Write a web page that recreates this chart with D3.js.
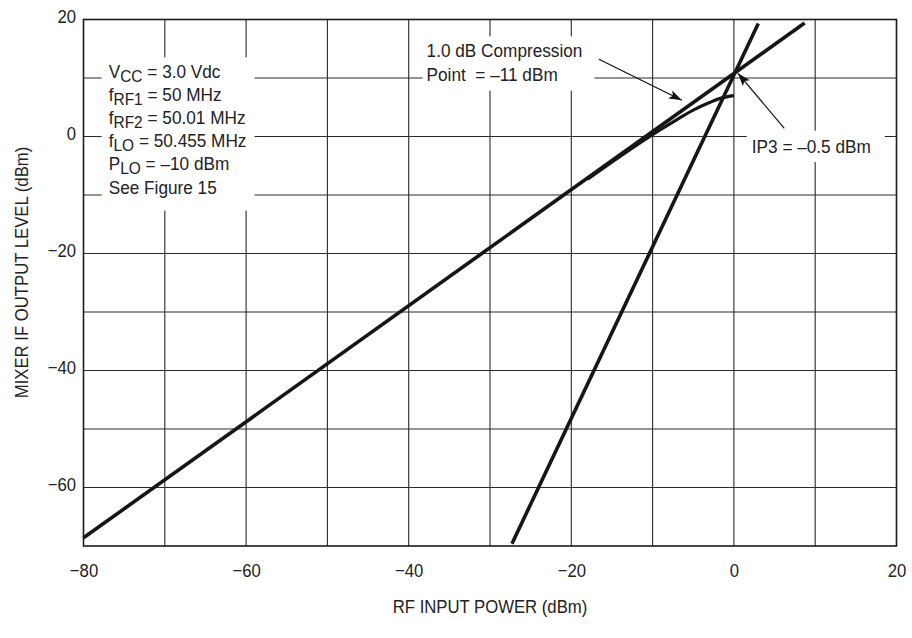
<!DOCTYPE html>
<html><head><meta charset="utf-8">
<script src="https://cdn.jsdelivr.net/npm/d3@7"></script>
<style>
body{margin:0;background:#fff;}
svg{display:block;font-family:"Liberation Sans",Arial,Helvetica,sans-serif;}
text{fill:#222;white-space:pre;}
</style></head><body>
<svg id="chart" width="912" height="638"></svg>
<script>
// RF input power (dBm) against mixer IF output level (dBm)
const fundamentalIn  = [-80, 8.7];
const fundamentalOut = [-68.6, 19.4];
const thirdOrderIn   = [-27.3, 3.0];
const thirdOrderOut  = [-69.6, 19.3];
const compressedIn   = [-18, -14, -11, -9, -7, -5, -3, -1.5, 0];
const compressedOut  = [-7.3, -3.4, -0.6, 1.2, 2.9, 4.5, 5.8, 6.6, 7.0];

const xTickValues = [-80, -60, -40, -20, 0, 20];
const yTickValues = [-60, -40, -20, 0, 20];
const xGridValues = [-70, -60, -50, -40, -30, -20, -10, 0, 10];
const yGridValues = [-60, -50, -40, -30, -20, -10, 0, 10];

// Test conditions: each line is a list of [text, isSubscript]
const conditionLines = [
  [["V", 0], ["CC", 1], [" = 3.0 Vdc", 0]],
  [["f", 0], ["RF1", 1], [" = 50 MHz", 0]],
  [["f", 0], ["RF2", 1], [" = 50.01 MHz", 0]],
  [["f", 0], ["LO", 1], [" = 50.455 MHz", 0]],
  [["P", 0], ["LO", 1], [" = \u201310 dBm", 0]],
  [["See Figure 15", 0]]
];
const compressionLines = ["1.0 dB Compression", "Point  = \u201311 dBm"];
const ip3Lines = ["IP3 = \u20130.5 dBm"];

const svg = d3.select("#chart");
const plotLeft = 83.5, plotRight = 896.5, plotTop = 19.5, plotBottom = 546;
const x = d3.scaleLinear().domain([-80, 20]).range([plotLeft, plotRight]);
const y = d3.scaleLinear().domain([20, -70]).range([plotTop, plotBottom]);
const condense = 0.88;      // axis lettering is a narrow face
const noteCondense = 0.93;  // annotation lettering

// grid
const grid = svg.append("g").attr("stroke", "#2a2a2a").attr("stroke-width", 1.1);
grid.selectAll("line.v").data(xGridValues).join("line").attr("class", "v")
  .attr("x1", d => x(d)).attr("x2", d => x(d)).attr("y1", plotTop).attr("y2", plotBottom);
grid.selectAll("line.h").data(yGridValues).join("line").attr("class", "h")
  .attr("x1", plotLeft).attr("x2", plotRight).attr("y1", d => y(d)).attr("y2", d => y(d));

// annotation blocks on a white background that hides the grid behind them
function block(xv, yv, lines, gaps, pad) {
  const g = svg.append("g").attr("font-size", 18.5)
    .attr("transform", `translate(${x(xv)},${y(yv)}) scale(${noteCondense},1)`);
  const bg = g.append("rect").attr("fill", "#fff");
  const t = g.append("text").attr("x", 0).attr("y", 0);
  let shift = 0;
  lines.forEach((ln, i) => {
    const parts = Array.isArray(ln) ? ln : [[ln, 0]];
    parts.forEach(([s, sub], j) => {
      const ts = t.append("tspan").text(s);
      let dy = 0;
      if (j === 0) { ts.attr("x", 0); dy += i === 0 ? 0 : gaps[i - 1]; }
      const target = sub ? 4 : 0;
      if (sub) ts.attr("font-size", "90%");
      dy += target - shift;
      shift = target;
      ts.attr("dy", dy);
    });
  });
  const b = t.node().getBBox();
  const sx = pad.map((p, k) => (k % 2 ? p / noteCondense : p));
  bg.attr("x", b.x - sx[3]).attr("y", b.y - sx[0])
    .attr("width", b.width + sx[1] + sx[3]).attr("height", b.height + sx[0] + sx[2]);
}
block(-76.9, 10.0, conditionLines, [23, 23, 23, 23, 24.5], [4, 8, 12, 7]);
block(-37.8, 13.6, compressionLines, [24], [4, 12, 5.5, 4]);
block(2.2, -2.8, ip3Lines, [], [5.5, 14, 5, 5]);

// frame
svg.append("rect").attr("x", plotLeft).attr("y", plotTop)
  .attr("width", plotRight - plotLeft).attr("height", plotBottom - plotTop)
  .attr("fill", "none").attr("stroke", "#1a1a1a").attr("stroke-width", 1.6);

// pointer arrows
const defs = svg.append("defs");
defs.append("marker").attr("id", "arrow").attr("markerUnits", "userSpaceOnUse")
  .attr("markerWidth", 14).attr("markerHeight", 10).attr("refX", 13).attr("refY", 4.5)
  .attr("orient", "auto")
  .append("path").attr("d", "M0,0 L13,4.5 L0,9 L3,4.5 Z").attr("fill", "#111");
const arrows = [
  { from: [-16.6, 13.2], to: [-6.4, 6.2] },
  { from: [6.2, 1.4], to: [0.5, 10.8] }
];
svg.append("g").selectAll("line").data(arrows).join("line")
  .attr("x1", d => x(d.from[0])).attr("y1", d => y(d.from[1]))
  .attr("x2", d => x(d.to[0])).attr("y2", d => y(d.to[1]))
  .attr("stroke", "#111").attr("stroke-width", 1.2).attr("marker-end", "url(#arrow)");

// response curves
const line = d3.line().x(d => x(d[0])).y(d => y(d[1]));
const curves = svg.append("g").attr("fill", "none").attr("stroke", "#161616");
curves.append("path").datum(d3.zip(fundamentalIn, fundamentalOut)).attr("d", line).attr("stroke-width", 3.6);
curves.append("path").datum(d3.zip(thirdOrderIn, thirdOrderOut)).attr("d", line).attr("stroke-width", 3.6);
curves.append("path").datum(d3.zip(compressedIn, compressedOut))
  .attr("d", line.curve(d3.curveMonotoneX)).attr("stroke-width", 3.2);

// axes
const xAxis = svg.append("g").attr("transform", `translate(0,${plotBottom})`)
  .call(d3.axisBottom(x).tickValues(xTickValues).tickSize(0).tickFormat(d3.format("d")));
const yAxis = svg.append("g").attr("transform", `translate(${plotLeft},0)`)
  .call(d3.axisLeft(y).tickValues(yTickValues).tickSize(0).tickFormat(d3.format("d")));
[xAxis, yAxis].forEach(a => { a.select(".domain").remove(); a.attr("font-family", null).attr("font-size", 19); });
xAxis.selectAll("text").attr("y", 0).attr("dy", 0).attr("fill", "#222")
  .attr("transform", `translate(0,31) scale(${condense},1)`);
yAxis.selectAll("text").attr("x", 0).attr("dy", 2.5).attr("fill", "#222")
  .attr("transform", `translate(-7.5,0) scale(${condense},1)`);

// axis titles
svg.append("text").attr("font-size", 19).attr("text-anchor", "middle")
  .attr("transform", `translate(${(plotLeft + plotRight) / 2},613) scale(${condense},1)`)
  .text("RF INPUT POWER (dBm)");
svg.append("text").attr("font-size", 19).attr("text-anchor", "middle")
  .attr("transform", `translate(28,272.5) rotate(-90) scale(${condense},1)`)
  .text("MIXER IF OUTPUT LEVEL (dBm)");
</script>
</body></html>
